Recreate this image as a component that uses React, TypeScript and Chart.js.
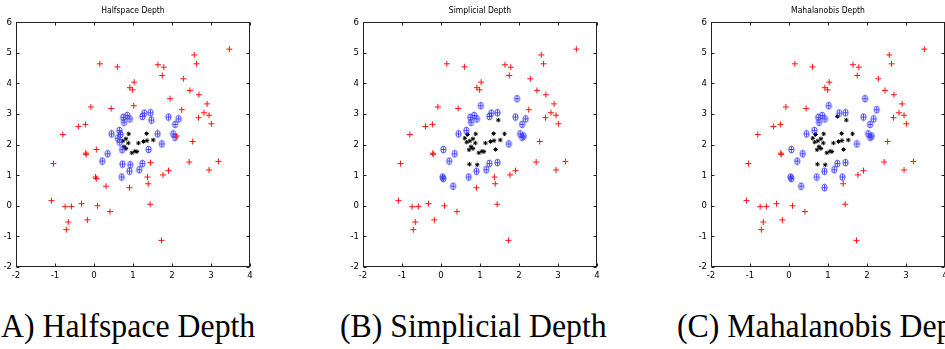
import React, { useEffect, useRef } from "react";
import { Chart, registerables } from "chart.js";

Chart.register(...registerables);

// ---- data ----
const xTickValues = [-2, -1, 0, 1, 2, 3, 4];
const yTickValues = [-2, -1, 0, 1, 2, 3, 4, 5, 6];

const pointX = [
  3.47, 2.57, 2.63, 0.15, 0.6, 1.64, 1.79, 1.75, 2.29, 1.03,
  0.92, 0.99, 2.46, 2.69, 1.95, 2.9, 2.82, 2.95, 2.68, 2.25,
  3.01, -0.08, 0.44, 1.02, -0.22, -0.4, -0.8, 2.12, 2.53, -0.21,
  -0.2, 0.06, -1.04, 1.45, 2.44, 3.19, 2.95, 1.91, 1.77, 0.04,
  0.06, 1.37, 1.39, 0.31, 0.91, -1.09, -0.74, -0.58, -0.32, 0.09,
  0.41, 1.44, -0.66, -0.17, -0.71, 1.73,
  0.75, 0.85, 0.92, 0.77, 1.24, 1.29, 1.45, 1.47, 1.91, 2.17,
  2.08, 0.65, 0.45, 0.68, 0.61, 0.66, 0.72, 0.35, 0.21, 1.4,
  1.63, 1.74, 2.03, 2.08, 0.73, 0.93, 1.24, 0.71, 0.91, 1.16,
  0.89, 1.35, 0.82, 0.74, 0.88, 1.14, 1.27, 1.36, 1.52, 0.77,
  0.82, 0.97, 1.05, 1.1,
];
const pointY = [
  5.12, 4.93, 4.64, 4.64, 4.54, 4.61, 4.53, 4.26, 4.15, 4.04,
  3.86, 3.79, 3.77, 3.63, 3.5, 3.33, 3.04, 2.96, 2.88, 3.14,
  2.68, 3.23, 3.18, 3.27, 2.66, 2.59, 2.33, 2.28, 2.1, 1.72,
  1.68, 1.84, 1.38, 1.41, 1.43, 1.45, 1.17, 1.15, 1.01, 0.94,
  0.89, 0.94, 0.72, 0.64, 0.59, 0.17, -0.03, -0.02, 0.07, 0.0,
  -0.19, 0.05, -0.53, -0.46, -0.78, -1.13,
  2.89, 2.95, 2.84, 2.73, 2.92, 3.03, 3.04, 2.8, 2.9, 2.84,
  2.66, 2.46, 2.35, 2.33, 2.21, 2.08, 1.83, 1.7, 1.46, 1.84,
  2.35, 2.02, 2.35, 2.24, 1.36, 1.34, 1.38, 0.94, 1.13, 1.18,
  2.35, 2.36, 2.19, 2.12, 2.05, 2.05, 2.1, 2.13, 2.15, 1.93,
  1.87, 1.73, 1.78, 1.77,
];

// 0 = outer (red +), 1 = middle (blue circled +), 2 = deepest (black *)
const halfspaceClass = [
  0, 0, 0, 0, 0, 0, 0, 0, 0, 0,
  0, 0, 0, 0, 0, 0, 0, 0, 0, 0,
  0, 0, 0, 0, 0, 0, 0, 0, 0, 0,
  0, 0, 0, 0, 0, 0, 0, 0, 0, 0,
  0, 0, 0, 0, 0, 0, 0, 0, 0, 0,
  0, 0, 0, 0, 0, 0,
  1, 1, 1, 1, 1, 1, 1, 1, 1, 1,
  1, 1, 1, 1, 1, 1, 1, 1, 1, 1,
  1, 1, 1, 1, 1, 1, 1, 1, 1, 1,
  2, 2, 2, 2, 2, 2, 2, 2, 2, 2,
  2, 2, 2, 2,
];
const simplicialClass = [
  0, 0, 0, 0, 0, 0, 0, 0, 0, 0,
  0, 0, 0, 0, 1, 0, 0, 0, 0, 0,
  0, 0, 0, 1, 0, 0, 0, 1, 0, 0,
  0, 1, 0, 1, 0, 0, 0, 0, 0, 1,
  1, 0, 0, 1, 0, 0, 0, 0, 0, 0,
  0, 0, 0, 0, 0, 0,
  1, 1, 1, 1, 1, 1, 1, 2, 1, 1,
  1, 1, 1, 2, 2, 2, 2, 1, 1, 2,
  2, 1, 1, 1, 2, 2, 1, 1, 1, 1,
  2, 2, 2, 2, 2, 2, 2, 2, 2, 2,
  2, 2, 2, 2,
];
const mahalanobisClass = [
  0, 0, 0, 0, 0, 0, 0, 0, 0, 0,
  0, 0, 0, 0, 1, 0, 0, 0, 0, 1,
  0, 0, 0, 1, 0, 0, 0, 1, 0, 0,
  0, 1, 0, 1, 0, 0, 0, 0, 0, 1,
  1, 1, 0, 1, 1, 0, 0, 0, 0, 0,
  0, 0, 0, 0, 0, 0,
  1, 1, 1, 1, 2, 1, 1, 2, 1, 1,
  1, 1, 1, 2, 2, 2, 2, 1, 1, 2,
  2, 1, 1, 1, 2, 2, 1, 1, 1, 1,
  2, 2, 2, 2, 2, 2, 2, 2, 2, 2,
  2, 2, 2, 2,
];

const panelTitles = ["Halfspace Depth", "Simplicial Depth", "Mahalanobis Depth"];
const panelCaptions = ["A) Halfspace Depth", "(B) Simplicial Depth", "(C) Mahalanobis Depth"];
const panelClasses = [halfspaceClass, simplicialClass, mahalanobisClass];

// ---- styling ----
const AXIS_FONT = "'Liberation Sans Narrow', 'DejaVu Sans Condensed', 'Liberation Sans', Arial, sans-serif";
const CAPTION_FONT = "'Liberation Serif', 'Times New Roman', serif";
const CANVAS_W = 262;
const CANVAS_H = 285;
const panelLefts = [0, 347, 695];
const captionLefts = [1, 340, 677];

function makeCircledPlus(): HTMLCanvasElement {
  const c = document.createElement("canvas");
  c.width = 9;
  c.height = 9;
  const g = c.getContext("2d")!;
  g.strokeStyle = "rgb(50,50,255)";
  g.lineWidth = 0.9;
  g.beginPath();
  g.ellipse(4.5, 4.5, 2.6, 3.4, 0, 0, Math.PI * 2);
  g.stroke();
  g.beginPath();
  g.moveTo(2.2, 4.5);
  g.lineTo(6.8, 4.5);
  g.moveTo(4.5, 1.5);
  g.lineTo(4.5, 7.5);
  g.stroke();
  return c;
}

const boxPlugin = {
  id: "matlabBox",
  beforeDatasetsDraw(chart: any) {
    const { ctx, chartArea: a, scales } = chart;
    const L = Math.round(a.left) + 0.5;
    const R = Math.round(a.right) - 0.5;
    const T = Math.round(a.top) + 0.5;
    const B = Math.round(a.bottom) - 0.5;
    ctx.save();
    ctx.strokeStyle = "#222";
    ctx.lineWidth = 1;
    ctx.strokeRect(L, T, R - L, B - T);
    ctx.beginPath();
    scales.x.ticks.forEach((t: any) => {
      const p = Math.round(scales.x.getPixelForValue(t.value)) + 0.5;
      ctx.moveTo(p, B);
      ctx.lineTo(p, B - 3);
      ctx.moveTo(p, T);
      ctx.lineTo(p, T + 3);
    });
    scales.y.ticks.forEach((t: any) => {
      const p = Math.round(scales.y.getPixelForValue(t.value)) + 0.5;
      ctx.moveTo(L, p);
      ctx.lineTo(L + 3, p);
      ctx.moveTo(R, p);
      ctx.lineTo(R - 3, p);
    });
    ctx.stroke();
    ctx.restore();
  },
};

function pointsOfClass(classes: number[], k: number) {
  const out: { x: number; y: number }[] = [];
  for (let i = 0; i < pointX.length; i++) {
    if (classes[i] === k) out.push({ x: pointX[i], y: pointY[i] });
  }
  return out;
}

function Panel({ title, classes, left }: { title: string; classes: number[]; left: number }) {
  const ref = useRef<HTMLCanvasElement | null>(null);
  useEffect(() => {
    if (!ref.current) return;
    const circledPlus = makeCircledPlus();
    const chart = new Chart(ref.current, {
      type: "scatter",
      data: {
        datasets: [
          {
            data: pointsOfClass(classes, 0),
            pointStyle: "cross",
            pointRadius: 3,
            borderColor: "rgb(255,20,20)",
            backgroundColor: "rgb(255,20,20)",
            borderWidth: 1,
          },
          {
            data: pointsOfClass(classes, 1),
            pointStyle: circledPlus as any,
            pointRadius: 4,
            borderColor: "rgb(50,50,255)",
            backgroundColor: "rgb(50,50,255)",
          },
          {
            data: pointsOfClass(classes, 2),
            pointStyle: "star",
            pointRadius: 2.2,
            borderColor: "#000",
            backgroundColor: "#000",
            borderWidth: 1,
          },
        ],
      },
      options: {
        animation: false,
        responsive: false,
        maintainAspectRatio: false,
        devicePixelRatio: 1,
        events: [],
        layout: { padding: { left: 0, right: 12, top: 0, bottom: 0 } },
        plugins: {
          legend: { display: false },
          tooltip: { enabled: false },
          title: {
            display: true,
            text: title,
            fullSize: false,
            color: "#000",
            font: { family: AXIS_FONT, size: 8.5, weight: "normal" as any },
            padding: { top: 6, bottom: 6 },
          },
        },
        scales: {
          x: {
            type: "linear",
            min: xTickValues[0],
            max: xTickValues[xTickValues.length - 1],
            afterBuildTicks: (s: any) => {
              s.ticks = xTickValues.map((v) => ({ value: v }));
            },
            afterFit: (s: any) => {
              s.height = 18;
            },
            grid: { display: false, drawTicks: false },
            border: { display: false },
            ticks: {
              color: "#000",
              padding: 3,
              maxRotation: 0,
              autoSkip: false,
              font: { family: AXIS_FONT, size: 9.5 },
            },
          },
          y: {
            type: "linear",
            min: yTickValues[0],
            max: yTickValues[yTickValues.length - 1],
            afterBuildTicks: (s: any) => {
              s.ticks = yTickValues.map((v) => ({ value: v }));
            },
            afterFit: (s: any) => {
              s.width = 16;
            },
            grid: { display: false, drawTicks: false },
            border: { display: false },
            ticks: {
              color: "#000",
              padding: 4,
              autoSkip: false,
              font: { family: AXIS_FONT, size: 9.5 },
            },
          },
        },
      },
      plugins: [boxPlugin],
    });
    return () => chart.destroy();
  }, [title, classes]);
  return (
    <canvas
      ref={ref}
      width={CANVAS_W}
      height={CANVAS_H}
      style={{ position: "absolute", left, top: 0, width: CANVAS_W, height: CANVAS_H }}
    />
  );
}

export default function App() {
  return (
    <div
      style={{
        position: "absolute",
        left: 0,
        top: 0,
        width: 945,
        height: 349,
        overflow: "hidden",
        background: "#fff",
      }}
    >
      {panelTitles.map((t, i) => (
        <Panel key={t} title={t} classes={panelClasses[i]} left={panelLefts[i]} />
      ))}
      {panelCaptions.map((c, i) => (
        <div
          key={c}
          style={{
            position: "absolute",
            left: captionLefts[i],
            top: 309,
            fontFamily: CAPTION_FONT,
            fontSize: 31.8,
            lineHeight: "32px",
            color: "#000",
            whiteSpace: "nowrap",
            transform: "scaleY(1.06)",
            transformOrigin: "0 0",
          }}
        >
          {c}
        </div>
      ))}
    </div>
  );
}
